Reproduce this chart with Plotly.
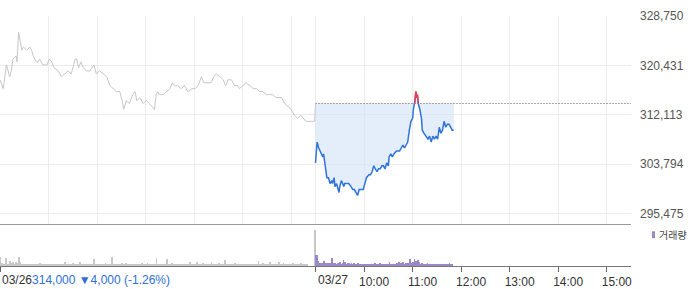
import numpy as np
import plotly.graph_objects as go

# ---------------- data ----------------
session_len = 390  # minutes per trading session (09:00-15:30)

# 03/26 session: minutes after 09:00, price
d1_min = [0, 4, 6, 8, 12, 14, 16, 20, 21, 23, 27, 29, 33, 37, 39, 41, 45, 47, 49, 53,
          56, 58, 61, 64, 67, 72, 76, 80, 84, 88, 93, 95, 97, 100, 103, 107, 111, 116, 119, 123,
          128, 132, 136, 140, 144, 148, 151, 153, 156, 160, 164, 167, 169, 173, 177, 181, 185, 188, 191, 193,
          195, 197, 202, 206, 210, 213, 216, 220, 224, 228, 232, 237, 241, 245, 249, 252, 257, 261, 264, 267,
          272, 276, 279, 282, 286, 290, 294, 296, 300, 304, 309, 313, 317, 321, 325, 329, 333, 337, 341, 348,
          352, 356, 360, 364, 368, 372, 375, 378, 389, 390]
d1_price = [318000, 316500, 318500, 320500, 318500, 319500, 321500, 322000, 321000, 326000,
            323000, 323500, 323000, 323500, 323000, 322000, 321000, 321000, 321500, 320500,
            320500, 320500, 321500, 321000, 320000, 319500, 318500, 319000, 319500, 319000,
            321500, 321500, 320000, 321000, 320000, 319500, 319500, 320500, 319000, 319500,
            319000, 318500, 317000, 316500, 316000, 316000, 314500, 313000, 314500, 314000,
            315500, 316000, 314500, 315000, 314000, 314500, 314000, 313500, 313000, 315500,
            316000, 315500, 315500, 316000, 316500, 317500, 317000, 317000, 316500, 317000,
            316000, 316500, 316500, 317000, 318500, 317500, 317500, 317500, 318500, 319000,
            318500, 318000, 317000, 318000, 318000, 317000, 317000, 316500, 317000, 317500,
            317000, 316500, 316500, 316000, 316000, 315500, 315500, 315500, 315000, 315000,
            314000, 313500, 313000, 312000, 311500, 312000, 311500, 311000, 311000, 314000]

# 03/27 session: minutes after 09:00, price
d2_min = [0, 2, 4, 6, 8, 9, 10, 12, 14, 16, 18, 20, 21, 23, 24, 26, 29, 30, 32, 35,
          36, 39, 41, 44, 46, 48, 50, 52, 54, 56, 59, 61, 63, 66, 68, 70, 72, 74, 76, 78,
          80, 82, 84, 86, 88, 90, 91, 93, 95, 97, 100, 102, 104, 106, 108, 110, 112, 114, 116, 118,
          120, 121, 123, 124, 125, 126, 127, 129, 131, 132, 134, 137, 139, 141, 143, 145, 147, 149, 151, 153,
          155, 157, 159, 161, 163, 165, 167, 169, 171]
d2_price = [304000, 307500, 306500, 306000, 305500, 305000, 305500, 303500, 301500, 301500,
            300500, 301000, 300500, 301500, 300000, 300500, 299000, 300000, 301000, 300000,
            300500, 300500, 300500, 300000, 299500, 299500, 299000, 298500, 299500, 299500,
            299500, 300500, 301500, 302000, 302000, 302500, 303500, 303000, 302500, 303000,
            303000, 303500, 303500, 303000, 304000, 303500, 305000, 305500, 305000, 305500,
            306000, 306000, 306000, 306500, 307000, 306500, 307000, 307500, 309500, 311000,
            311500, 313000, 314500, 316000, 315000, 315500, 314000, 313000, 311500, 309500,
            309000, 308500, 308000, 308500, 307500, 308500, 308000, 308500, 308000, 310000,
            309000, 309500, 311000, 310000, 310500, 310500, 310000, 309500, 309500]

# per-minute volume (relative units), 03/26 (last = closing auction) and 03/27
d1_vol = [9, 2, 3, 1, 2, 1, 2, 8, 2, 2, 1, 2, 5, 2, 3, 1, 4, 2, 1, 4, 2, 3, 1, 9, 2, 4, 1, 2, 1, 1,
          2, 1, 1, 2, 1, 1, 1, 2, 1, 1, 1, 1, 2, 1, 1, 1, 1, 1, 2, 3, 1, 1, 1, 2, 1, 1, 1, 2, 1, 1,
          1, 1, 2, 1, 1, 1, 1, 1, 2, 1, 1, 1, 1, 2, 1, 1, 1, 1, 1, 2, 4, 1, 1, 1, 1, 2, 1, 1, 1, 2,
          3, 1, 1, 1, 2, 2, 1, 1, 4, 1, 1, 2, 1, 1, 1, 1, 2, 1, 1, 1, 1, 2, 1, 1, 1, 1, 7, 1, 1, 2,
          2, 1, 1, 1, 1, 2, 1, 1, 1, 2, 3, 1, 1, 1, 2, 1, 1, 1, 9, 1, 2, 1, 2, 1, 1, 2, 1, 1, 2, 1,
          3, 2, 2, 2, 2, 3, 2, 2, 2, 2, 2, 2, 2, 2, 1, 1, 1, 2, 1, 1, 1, 1, 1, 1, 2, 3, 1, 1, 1, 2,
          1, 1, 3, 1, 1, 2, 1, 1, 1, 2, 1, 1, 1, 8, 2, 1, 1, 1, 2, 1, 1, 1, 2, 1, 1, 1, 7, 1, 2, 1,
          1, 1, 3, 1, 2, 1, 1, 1, 2, 1, 1, 2, 1, 1, 1, 1, 2, 1, 1, 1, 1, 2, 1, 1, 4, 1, 1, 1, 2, 1,
          1, 2, 1, 4, 1, 1, 1, 2, 1, 1, 3, 1, 1, 1, 2, 1, 1, 2, 1, 1, 1, 4, 1, 2, 1, 1, 1, 2, 1, 1,
          3, 1, 1, 2, 1, 1, 1, 2, 6, 1, 2, 1, 1, 1, 2, 1, 1, 1, 2, 1, 3, 1, 1, 2, 1, 1, 1, 1, 2, 1,
          1, 1, 2, 1, 1, 2, 1, 1, 1, 2, 1, 1, 1, 1, 2, 1, 1, 2, 1, 5, 2, 1, 1, 2, 1, 3, 1, 1, 2, 1,
          1, 2, 1, 4, 1, 1, 2, 1, 1, 2, 1, 1, 2, 1, 4, 2, 1, 2, 1, 2, 3, 2, 1, 1, 2, 2, 1, 1, 2, 2,
          1, 2, 3, 1, 2, 2, 1, 2, 2, 1, 2, 2, 3, 1, 2, 2, 1, 1, 2, 1, 0, 0, 0, 0, 0, 0, 0, 0, 0, 36]
d2_vol = [11, 11, 4, 5, 3, 2, 3, 2, 3, 2, 5, 3, 2, 3, 3, 2, 3, 2, 2, 3, 8, 3, 2, 2, 3, 2, 2, 3, 2, 2,
          4, 2, 2, 3, 6, 2, 4, 2, 2, 3, 2, 3, 2, 2, 3, 2, 2, 3, 2, 2, 2, 2, 3, 2, 1, 2, 2, 1, 2, 1,
          2, 1, 2, 2, 1, 2, 1, 2, 2, 1, 2, 2, 1, 3, 2, 1, 2, 2, 1, 3, 2, 2, 1, 2, 2, 1, 2, 2, 2, 1,
          2, 4, 2, 2, 1, 2, 2, 2, 1, 2, 3, 2, 2, 4, 2, 3, 2, 2, 4, 2, 2, 3, 2, 2, 3, 2, 7, 3, 2, 3,
          4, 3, 7, 3, 5, 3, 6, 3, 4, 2, 2, 3, 2, 2, 1, 2, 2, 1, 3, 2, 1, 2, 2, 1, 2, 2, 1, 2, 2, 1,
          2, 1, 2, 2, 1, 2, 1, 2, 2, 1, 2, 2, 1, 2, 1, 3, 2, 1, 2]

prev_close = 314000
prev_change = -4000
prev_pct = -1.26

price_ticks = [295475, 303794, 312113, 320431, 328750]
time_tick_min = [60, 120, 180, 240, 300, 360]
time_tick_text = ["10:00", "11:00", "12:00", "13:00", "14:00", "15:00"]
date_labels = ["03/26", "03/27"]
volume_name = "거래량"

# ---------------- styling ----------------
GRID = "#ececec"
GRAY_LINE = "#c6c6ca"
BLUE = "#2f74d9"
RED = "#f03c4c"
FILL = "rgba(214,228,248,0.65)"
PURPLE = "#9a88c8"
VOL_GRAY = "#c8c8c8"
FONT = "Liberation Sans, Arial, sans-serif"

x1 = np.array(d1_min, dtype=float)
y1 = np.array(d1_price, dtype=float)
x2 = np.array(d2_min, dtype=float) + session_len
y2 = np.array(d2_price, dtype=float)

# segments of day-2 line above the previous close (drawn red)
red_x, red_y = [], []
for i in range(len(x2) - 1):
    xa, ya, xb, yb = x2[i], y2[i], x2[i + 1], y2[i + 1]
    above_a, above_b = ya > prev_close, yb > prev_close
    if not (above_a or above_b):
        continue
    if above_a:
        sx, sy = xa, ya
    else:
        t = (prev_close - ya) / (yb - ya)
        sx, sy = xa + t * (xb - xa), prev_close
    if above_b:
        ex, ey = xb, yb
    else:
        t = (prev_close - ya) / (yb - ya)
        ex, ey = xa + t * (xb - xa), prev_close
    red_x += [sx, ex, None]
    red_y += [sy, ey, None]

fig = go.Figure()

# fill under previous close down to the day-2 line
fig.add_trace(go.Scatter(x=x2, y=[prev_close] * len(x2), mode="lines",
                         line=dict(width=0), hoverinfo="skip", showlegend=False))
fig.add_trace(go.Scatter(x=x2, y=np.minimum(y2, prev_close), mode="lines",
                         line=dict(width=0), fill="tonexty", fillcolor=FILL,
                         hoverinfo="skip", showlegend=False))
# previous close dotted reference
fig.add_trace(go.Scatter(x=[session_len, 2 * session_len], y=[prev_close, prev_close],
                         mode="lines", line=dict(color="#555555", width=1, dash="1px,2px"),
                         showlegend=False))
# day 1 line
fig.add_trace(go.Scatter(x=x1, y=y1, mode="lines", line=dict(color=GRAY_LINE, width=1),
                         showlegend=False))
# day 2 line
fig.add_trace(go.Scatter(x=x2, y=y2, mode="lines", line=dict(color=BLUE, width=1.5),
                         showlegend=False))
fig.add_trace(go.Scatter(x=red_x, y=red_y, mode="lines", line=dict(color=RED, width=1.5),
                         showlegend=False, connectgaps=False))

# volume
fig.add_trace(go.Bar(x=np.arange(len(d1_vol)) + 0.5, y=d1_vol, width=0.9,
                     marker=dict(color=VOL_GRAY, line=dict(width=0)),
                     xaxis="x2", yaxis="y2", showlegend=False))
fig.add_trace(go.Bar(x=np.arange(len(d2_vol)) + session_len + 0.5, y=d2_vol, width=0.9,
                     marker=dict(color=PURPLE, line=dict(width=0)),
                     xaxis="x2", yaxis="y2", showlegend=False, name=volume_name))

W, H = 700, 289
ml, mr, mt, mb = 0, 69, 16, 21
plot_w = W - ml - mr
plot_h = H - mt - mb
vol_h = 42
split = vol_h / plot_h

grid_x = [0, 60, 120, 180, 240, 300, 360, session_len] + [session_len + m for m in time_tick_min]

fig.update_layout(
    width=W, height=H,
    margin=dict(l=ml, r=mr, t=mt, b=mb, pad=0),
    paper_bgcolor="white", plot_bgcolor="white",
    font=dict(family=FONT, size=12, color="#333"),
    bargap=0,
    xaxis=dict(domain=[0, 1], range=[0, 2 * session_len], anchor="y",
               tickvals=grid_x, showticklabels=False, ticks="",
               showgrid=True, gridcolor=GRID, gridwidth=1, zeroline=False,
               showline=True, linecolor="#9a9a9a", linewidth=1),
    yaxis=dict(domain=[split, 1], range=[293636, 328750], side="right", anchor="x",
               tickvals=price_ticks, ticktext=[f"{v:,}" for v in price_ticks],
               tickfont=dict(size=12, color="#555"), ticks="", ticklabelstandoff=8,
               showgrid=True, gridcolor=GRID, gridwidth=1, zeroline=False, showline=False),
    xaxis2=dict(domain=[0, 1], range=[0, 2 * session_len], anchor="y2", matches="x",
                tickvals=[0, session_len] + [session_len + m for m in time_tick_min],
                ticktext=["", ""] + time_tick_text,
                ticks="outside", ticklen=5, tickcolor="#666", tickwidth=1,
                ticklabelshift=10, tickfont=dict(size=12, color="#333"),
                showgrid=False, zeroline=False, showline=True, linecolor="#777", linewidth=1),
    yaxis2=dict(domain=[0, split], range=[0, vol_h], anchor="x2",
                showticklabels=False, showgrid=False, zeroline=False, ticks=""),
    annotations=[
        dict(x=0, xref="x2", y=0, yref="paper", xanchor="left", yanchor="middle", yshift=-14,
             text=f"{date_labels[0]}<span style='color:#2f6fd3'>{prev_close:,} ▼{abs(prev_change):,} ({prev_pct:.2f}%)</span>",
             showarrow=False, font=dict(size=12, color="#333", family=FONT)),
        dict(x=session_len, xref="x2", y=0, yref="paper", xanchor="left", yanchor="middle", yshift=-14,
             text=date_labels[1], showarrow=False, font=dict(size=12, color="#333", family=FONT)),
        dict(x=(657 - ml) / plot_w, xref="paper", y=(H - mb - 236) / plot_h, yref="paper",
             xanchor="left", yanchor="middle", text=volume_name, showarrow=False,
             font=dict(size=10, color="#444", family="Noto Sans CJK KR")),
    ],
    shapes=[
        dict(type="rect", xref="paper", yref="paper",
             x0=(652 - ml) / plot_w, x1=(655 - ml) / plot_w,
             y0=(H - mb - 240) / plot_h, y1=(H - mb - 233) / plot_h,
             fillcolor=PURPLE, line=dict(width=0)),
    ],
)

fig.write_html("out.html")
